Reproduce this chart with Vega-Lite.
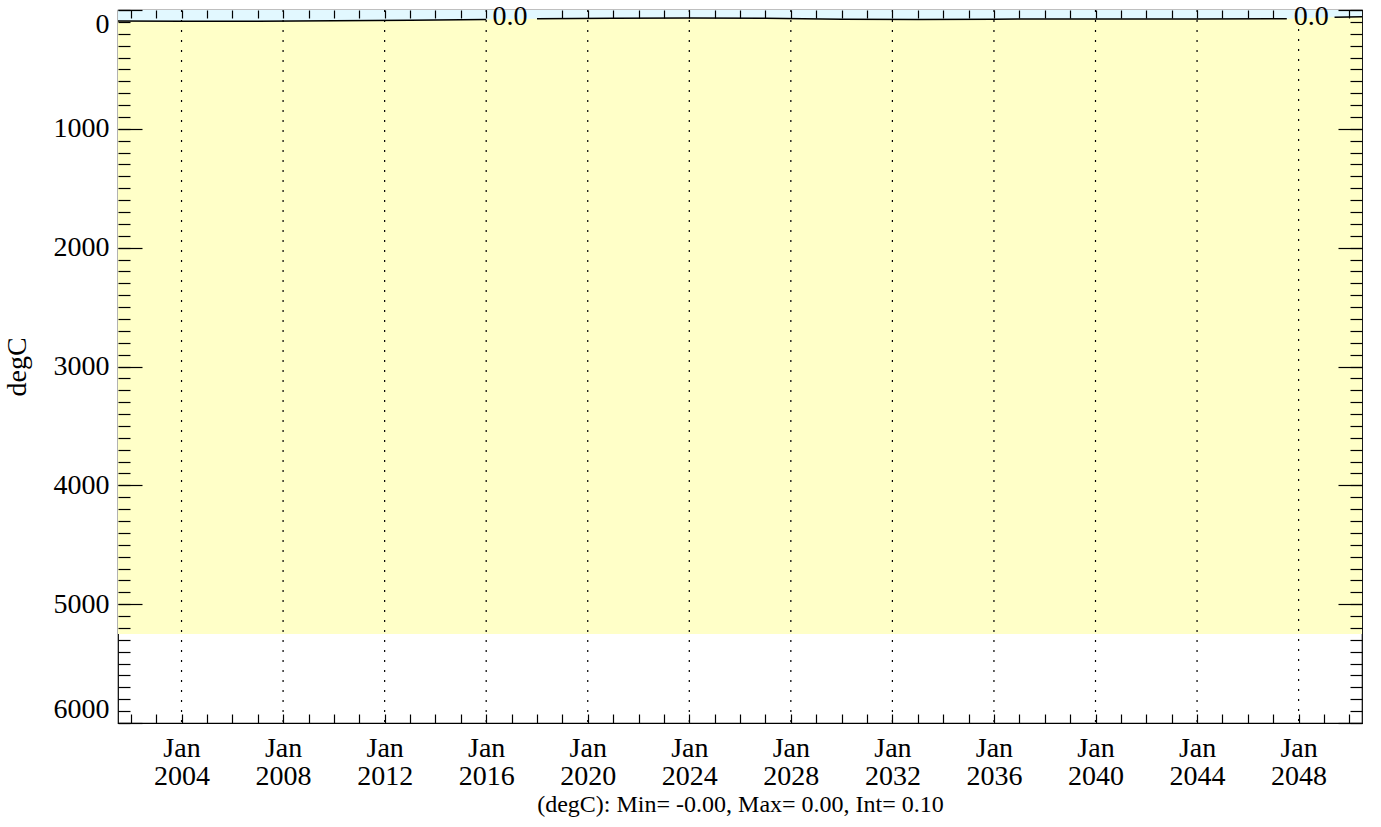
{
  "$schema": "https://vega.github.io/schema/vega-lite/v6.json",
  "width": 1244,
  "height": 713,
  "autosize": {"type": "none"},
  "padding": {"left": 118, "top": 10, "right": 19, "bottom": 104},
  "background": "white",
  "config": {
    "font": "Liberation Serif",
    "view": {"stroke": "black", "strokeWidth": 1.2},
    "axis": {
      "domain": false,
      "grid": false,
      "labelFont": "Liberation Serif",
      "labelFontSize": 28,
      "labelColor": "black",
      "titleFont": "Liberation Serif",
      "titleFontSize": 28,
      "titleFontWeight": "normal",
      "titleColor": "black",
      "tickColor": "black",
      "tickWidth": 1.2
    }
  },
  "datasets": {
    "band": [
      {"t0": "2001-07-01", "t1": "2050-07-01", "d0": 0, "d1": 5250}
    ],
    "grid": [
      {"t": "2004-01-01", "top": 0},
      {"t": "2008-01-01", "top": 0},
      {"t": "2012-01-01", "top": 0},
      {"t": "2016-01-01", "top": 0},
      {"t": "2020-01-01", "top": 0},
      {"t": "2024-01-01", "top": 0},
      {"t": "2028-01-01", "top": 0},
      {"t": "2032-01-01", "top": 0},
      {"t": "2036-01-01", "top": 0},
      {"t": "2040-01-01", "top": 0},
      {"t": "2044-01-01", "top": 0},
      {"t": "2048-01-01", "top": 160}
    ],
    "contour": [
      {"t": "2001-07-01", "d": 92, "seg": "a"},
      {"t": "2004-01-01", "d": 94, "seg": "a"},
      {"t": "2007-01-01", "d": 95, "seg": "a"},
      {"t": "2010-01-01", "d": 91, "seg": "a"},
      {"t": "2013-01-01", "d": 86, "seg": "a"},
      {"t": "2016-01-01", "d": 80, "seg": "a"},
      {"t": "2018-01-01", "d": 73, "seg": "b"},
      {"t": "2021-01-01", "d": 70, "seg": "b"},
      {"t": "2024-01-01", "d": 68, "seg": "b"},
      {"t": "2027-01-01", "d": 70, "seg": "b"},
      {"t": "2030-01-01", "d": 78, "seg": "b"},
      {"t": "2033-01-01", "d": 80, "seg": "b"},
      {"t": "2036-01-01", "d": 77, "seg": "b"},
      {"t": "2040-01-01", "d": 76, "seg": "b"},
      {"t": "2044-01-01", "d": 76, "seg": "b"},
      {"t": "2047-07-15", "d": 74, "seg": "b"},
      {"t": "2049-06-01", "d": 62, "seg": "c"},
      {"t": "2050-07-01", "d": 57, "seg": "c"}
    ],
    "labels": [
      {"t": "2016-12-10", "d": 59, "label": "0.0", "n": 1},
      {"t": "2048-07-01", "d": 59, "label": "0.0", "n": 2}
    ]
  },
  "layer": [
    {
      "data": {"name": "band"},
      "mark": {"type": "rect", "color": "#FFFFC8"},
      "encoding": {
        "x": {
          "field": "t0", "type": "temporal",
          "scale": {"type": "utc", "domain": [{"year": 2001, "month": 7, "date": 1, "utc": true}, {"year": 2050, "month": 7, "date": 1, "utc": true}]},
          "axis": {
            "orient": "bottom",
            "zindex": 1,
            "ticks": false,
            "grid": false,
            "tickCount": {"interval": "year", "step": 4},
            "labelExpr": "['Jan', utcFormat(datum.value, '%Y')]",
            "labelLineHeight": 28,
            "labelPadding": 11,
            "labelBaseline": "top",
            "title": "(degC): Min= -0.00, Max= 0.00, Int= 0.10",
            "titleFontSize": 24,
            "titlePadding": 2
          }
        },
        "x2": {"field": "t1"},
        "y": {
          "field": "d0", "type": "quantitative",
          "scale": {"domain": [0, 6000], "reverse": true, "nice": false, "zero": false},
          "axis": {
            "orient": "left",
            "zindex": 1,
            "ticks": false,
            "format": "d",
            "values": [0, 1000, 2000, 3000, 4000, 5000, 6000],
            "labelFlush": true,
            "labelPadding": 9,
            "title": "degC",
            "titlePadding": 22
          }
        },
        "y2": {"field": "d1"}
      }
    },
    {
      "data": {"name": "contour"},
      "mark": {"type": "area", "color": "#E2F8FF", "opacity": 1},
      "encoding": {
        "x": {
          "field": "t", "type": "temporal",
          "axis": {
            "orient": "bottom",
            "zindex": 1,
            "labels": false,
            "title": null,
            "tickSize": -9,
            "tickCount": {"interval": "year", "step": 1}
          }
        },
        "y": {
          "field": "d", "type": "quantitative",
          "axis": {
            "orient": "left",
            "zindex": 1,
            "labels": false,
            "title": null,
            "tickSize": -12,
            "values": [0,100,200,300,400,500,600,700,800,900,1000,1100,1200,1300,1400,1500,1600,1700,1800,1900,2000,2100,2200,2300,2400,2500,2600,2700,2800,2900,3000,3100,3200,3300,3400,3500,3600,3700,3800,3900,4000,4100,4200,4300,4400,4500,4600,4700,4800,4900,5000,5100,5200,5300,5400,5500,5600,5700,5800,5900,6000]
          }
        },
        "y2": {"datum": 0}
      }
    },
    {
      "data": {"name": "grid"},
      "mark": {"type": "rule", "color": "black", "strokeWidth": 1.2, "strokeDash": [2, 8]},
      "encoding": {
        "x": {"field": "t", "type": "temporal", "axis": null},
        "y": {"field": "top", "type": "quantitative", "axis": null},
        "y2": {"datum": 6000}
      }
    },
    {
      "data": {"name": "contour"},
      "mark": {"type": "line", "color": "black", "strokeWidth": 1.5},
      "encoding": {
        "x": {
          "field": "t", "type": "temporal",
          "axis": {
            "orient": "top",
            "zindex": 1,
            "labels": false,
            "title": null,
            "tickSize": -8,
            "values": [
              {"year": 2002, "month": 1, "date": 1, "utc": true},
              {"year": 2003, "month": 1, "date": 1, "utc": true},
              {"year": 2004, "month": 1, "date": 1, "utc": true},
              {"year": 2005, "month": 1, "date": 1, "utc": true},
              {"year": 2006, "month": 1, "date": 1, "utc": true},
              {"year": 2007, "month": 1, "date": 1, "utc": true},
              {"year": 2008, "month": 1, "date": 1, "utc": true},
              {"year": 2009, "month": 1, "date": 1, "utc": true},
              {"year": 2010, "month": 1, "date": 1, "utc": true},
              {"year": 2011, "month": 1, "date": 1, "utc": true},
              {"year": 2012, "month": 1, "date": 1, "utc": true},
              {"year": 2013, "month": 1, "date": 1, "utc": true},
              {"year": 2014, "month": 1, "date": 1, "utc": true},
              {"year": 2015, "month": 1, "date": 1, "utc": true},
              {"year": 2016, "month": 1, "date": 1, "utc": true},
              {"year": 2019, "month": 1, "date": 1, "utc": true},
              {"year": 2020, "month": 1, "date": 1, "utc": true},
              {"year": 2021, "month": 1, "date": 1, "utc": true},
              {"year": 2022, "month": 1, "date": 1, "utc": true},
              {"year": 2023, "month": 1, "date": 1, "utc": true},
              {"year": 2024, "month": 1, "date": 1, "utc": true},
              {"year": 2025, "month": 1, "date": 1, "utc": true},
              {"year": 2026, "month": 1, "date": 1, "utc": true},
              {"year": 2027, "month": 1, "date": 1, "utc": true},
              {"year": 2028, "month": 1, "date": 1, "utc": true},
              {"year": 2029, "month": 1, "date": 1, "utc": true},
              {"year": 2030, "month": 1, "date": 1, "utc": true},
              {"year": 2031, "month": 1, "date": 1, "utc": true},
              {"year": 2032, "month": 1, "date": 1, "utc": true},
              {"year": 2033, "month": 1, "date": 1, "utc": true},
              {"year": 2034, "month": 1, "date": 1, "utc": true},
              {"year": 2035, "month": 1, "date": 1, "utc": true},
              {"year": 2036, "month": 1, "date": 1, "utc": true},
              {"year": 2037, "month": 1, "date": 1, "utc": true},
              {"year": 2038, "month": 1, "date": 1, "utc": true},
              {"year": 2039, "month": 1, "date": 1, "utc": true},
              {"year": 2040, "month": 1, "date": 1, "utc": true},
              {"year": 2041, "month": 1, "date": 1, "utc": true},
              {"year": 2042, "month": 1, "date": 1, "utc": true},
              {"year": 2043, "month": 1, "date": 1, "utc": true},
              {"year": 2044, "month": 1, "date": 1, "utc": true},
              {"year": 2045, "month": 1, "date": 1, "utc": true},
              {"year": 2046, "month": 1, "date": 1, "utc": true},
              {"year": 2047, "month": 1, "date": 1, "utc": true},
              {"year": 2050, "month": 1, "date": 1, "utc": true}
            ]
          }
        },
        "y": {
          "field": "d", "type": "quantitative",
          "axis": {
            "orient": "right",
            "zindex": 1,
            "labels": false,
            "title": null,
            "tickSize": -12,
            "values": [0,100,200,300,400,500,600,700,800,900,1000,1100,1200,1300,1400,1500,1600,1700,1800,1900,2000,2100,2200,2300,2400,2500,2600,2700,2800,2900,3000,3100,3200,3300,3400,3500,3600,3700,3800,3900,4000,4100,4200,4300,4400,4500,4600,4700,4800,4900,5000,5100,5200,5300,5400,5500,5600,5700,5800,5900,6000]
          }
        },
        "detail": {"field": "seg"}
      }
    },
    {
      "data": {"name": "labels"},
      "transform": [{"filter": "datum.n == 1"}],
      "mark": {"type": "text", "fontSize": 28, "font": "Liberation Serif", "color": "black", "baseline": "middle", "align": "center"},
      "encoding": {
        "x": {"field": "t", "type": "temporal", "axis": null},
        "y": {
          "field": "d", "type": "quantitative",
          "axis": {
            "orient": "left",
            "zindex": 1,
            "labels": false,
            "title": null,
            "tickSize": -24,
            "values": [0, 1000, 2000, 3000, 4000, 5000, 6000]
          }
        },
        "text": {"field": "label"}
      }
    },
    {
      "data": {"name": "labels"},
      "transform": [{"filter": "datum.n == 2"}],
      "mark": {"type": "text", "fontSize": 28, "font": "Liberation Serif", "color": "black", "baseline": "middle", "align": "center"},
      "encoding": {
        "x": {"field": "t", "type": "temporal", "axis": null},
        "y": {
          "field": "d", "type": "quantitative",
          "axis": {
            "orient": "right",
            "zindex": 1,
            "labels": false,
            "title": null,
            "tickSize": -24,
            "values": [0, 1000, 2000, 3000, 4000, 5000, 6000]
          }
        },
        "text": {"field": "label"}
      }
    }
  ],
  "resolve": {"axis": {"x": "independent", "y": "independent"}}
}
